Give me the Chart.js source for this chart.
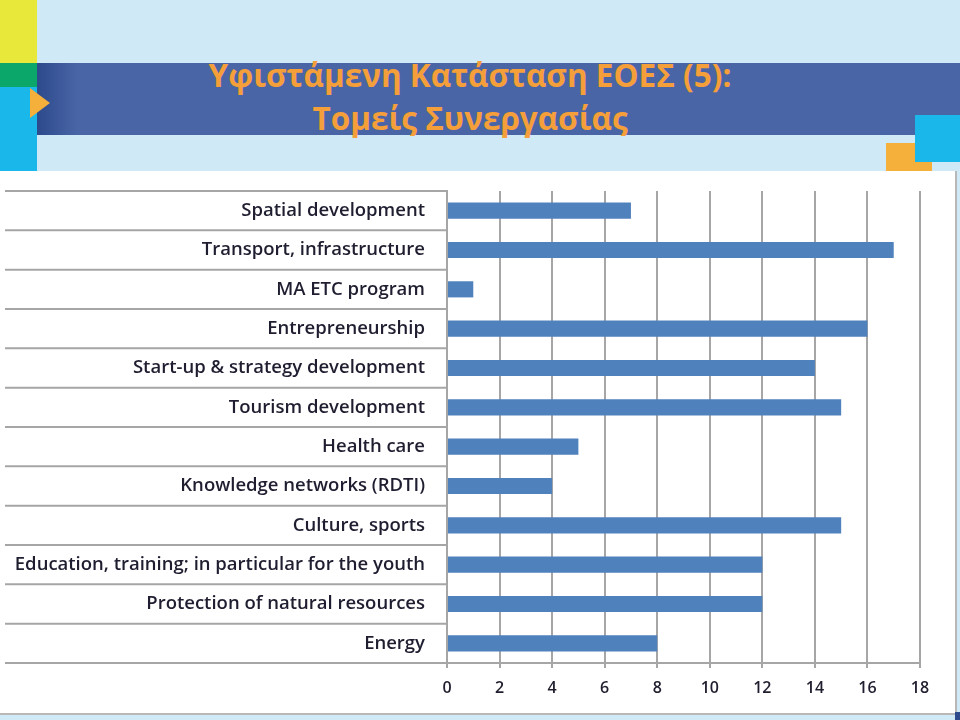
<!DOCTYPE html>
<html>
<head>
<meta charset="utf-8">
<script src="https://cdn.jsdelivr.net/npm/chart.js@4.4.1/dist/chart.umd.min.js"></script>
<style>
  html, body { margin: 0; padding: 0; }
  body { width: 960px; height: 720px; position: relative; overflow: hidden; background: #cfe9f7; font-family: "Open Sans", sans-serif; }
  .blk { position: absolute; }
  #band { left: 37px; top: 63px; width: 923px; height: 72px; background: linear-gradient(to right, #2c4a8c 0px, #4a65a6 40px, #4a65a6 100%); }
  #title { position: absolute; left: 0; top: 53px; width: 940px; text-align: center; color: #f59f3a; font-weight: 700; font-size: 31.5px; line-height: 43px; }
  #chartBox { position: absolute; left: 0; top: 171px; width: 955px; height: 542px; background: #fff; border-right: 2px solid #b8b8b8; border-bottom: 2px solid #b8b8b8; }
</style>
</head>
<body>
<div class="blk" style="left:0;top:0;width:37px;height:63px;background:#e8e83a"></div>
<div class="blk" style="left:0;top:63px;width:37px;height:24px;background:#0aa66a"></div>
<div class="blk" style="left:0;top:87px;width:37px;height:84px;background:#1ab8ea"></div>
<div class="blk" id="band"></div>
<div class="blk" style="left:30px;top:88px;width:0;height:0;border-top:15px solid transparent;border-bottom:15px solid transparent;border-left:20px solid #f5b03c"></div>
<div class="blk" style="left:886px;top:143px;width:46px;height:30px;background:#f5b03c"></div>
<div class="blk" style="left:915px;top:115px;width:45px;height:47px;background:#1ab8ea"></div>
<div id="title">Υφιστάμενη Κατάσταση ΕΟΕΣ (5):<br>Τομείς Συνεργασίας</div>
<div id="chartBox"><canvas id="c" width="955" height="542"></canvas></div>
<div class="blk" style="left:955px;top:712px;width:5px;height:8px;background:#2c4a8c"></div>
<script>
const categories = [
  "Spatial development",
  "Transport, infrastructure",
  "MA ETC program",
  "Entrepreneurship",
  "Start-up & strategy development",
  "Tourism development",
  "Health care",
  "Knowledge networks (RDTI)",
  "Culture, sports",
  "Education, training; in particular for the youth",
  "Protection of natural resources",
  "Energy"
];
const counts = [7, 17, 1, 16, 14, 15, 5, 4, 15, 12, 12, 8];
const xTicks = [0, 2, 4, 6, 8, 10, 12, 14, 16, 18];

// row separators that run from the left edge to the axis, like the table look of the original
const rowLines = {
  id: "rowLines",
  afterDraw(chart) {
    const y = chart.scales.y;
    const ctx = chart.ctx;
    const step = y.getPixelForValue(1) - y.getPixelForValue(0);
    ctx.save();
    ctx.strokeStyle = "#a6a6a6";
    ctx.lineWidth = 2;
    for (let i = 0; i <= categories.length; i++) {
      const py = i < categories.length ? y.getPixelForValue(i) - step / 2 : y.bottom;
      ctx.beginPath();
      ctx.moveTo(5, py);
      ctx.lineTo(y.right, py);
      ctx.stroke();
    }
    ctx.restore();
  }
};

new Chart(document.getElementById("c"), {
  type: "bar",
  data: {
    labels: categories,
    datasets: [{
      data: counts,
      backgroundColor: "#4f81bd",
      borderWidth: 0,
      barPercentage: 0.41,
      categoryPercentage: 1
    }]
  },
  options: {
    indexAxis: "y",
    responsive: false,
    animation: false,
    layout: { padding: { top: 20, right: 35, bottom: 0, left: 0 } },
    plugins: { legend: { display: false }, tooltip: { enabled: false } },
    scales: {
      x: {
        min: 0, max: 18,
        afterBuildTicks(s) { s.ticks = xTicks.map(v => ({ value: v })); },
        afterFit(s) { s.height = 50; s.paddingLeft = 0; s.paddingRight = 0; },
        grid: { color: "#a6a6a6", lineWidth: 2, tickLength: 5 },
        border: { color: "#a6a6a6", width: 2 },
        ticks: { color: "#1e1e2e", padding: 11, font: { family: "Open Sans", size: 16, weight: 600 } }
      },
      y: {
        afterFit(s) { s.width = 447; s.paddingTop = 0; s.paddingBottom = 0; },
        grid: { display: false, drawTicks: false },
        border: { color: "#a6a6a6", width: 2 },
        ticks: { color: "#1e1e30", padding: 22, font: { family: "Open Sans", size: 18.5, weight: 600 } }
      }
    }
  },
  plugins: [rowLines]
});
</script>
</body>
</html>
